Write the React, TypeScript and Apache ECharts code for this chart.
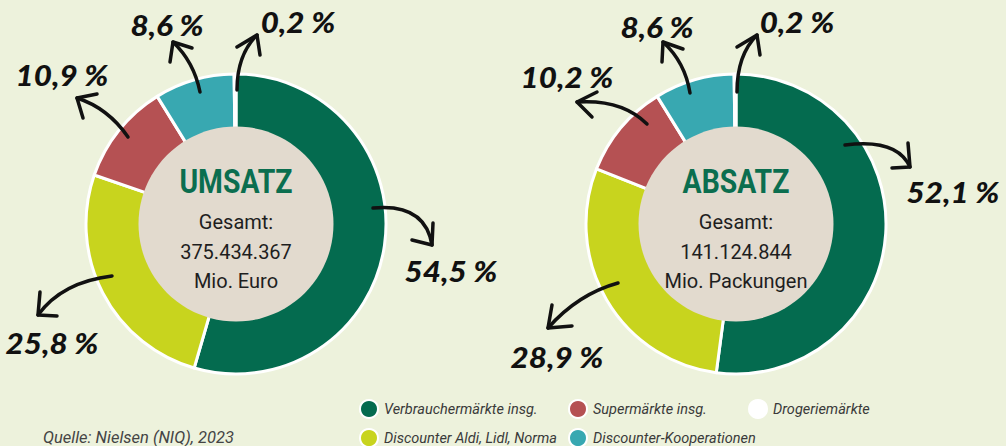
import React, { useEffect, useRef } from "react";
import * as echarts from "echarts";

const categories = [
  "Verbrauchermärkte insg.",
  "Discounter Aldi, Lidl, Norma",
  "Supermärkte insg.",
  "Discounter-Kooperationen",
  "Drogeriemärkte",
];
const colors = ["#046b4f", "#c8d41e", "#b55153", "#38a8b1", "#ffffff"];
const umsatzValues = [54.5, 25.8, 10.9, 8.6, 0.2];
const absatzValues = [52.1, 28.9, 10.2, 8.6, 0.2];
const titles = ["UMSATZ", "ABSATZ"];
const totals = ["375.434.367", "141.124.844"];
const units = ["Mio. Euro", "Mio. Packungen"];
const sourceText = "Quelle: Nielsen (NIQ), 2023";

// layout (pixels) for the two donuts and their hand-drawn annotations
const centers: [number, number][] = [
  [236, 224],
  [736, 224],
];
// per slice: label center, arrow tail, control, head, barb1, barb2
const annoLeft = [
  { l: [451, 271], t: [373, 208], c: [425, 203], h: [432, 245], b1: [412, 240], b2: [433, 223] },
  { l: [52, 343], t: [112, 276], c: [62, 282], h: [38, 315], b1: [40, 292], b2: [57, 316] },
  { l: [62, 75], t: [128, 137], c: [108, 108], h: [77, 98], b1: [97, 94], b2: [83, 118] },
  { l: [167, 25], t: [200, 92], c: [194, 62], h: [173, 42], b1: [170, 62], b2: [192, 48] },
  { l: [298, 22], t: [237, 90], c: [237, 55], h: [257, 35], b1: [237, 47], b2: [260, 55] },
];
const annoRight = [
  { l: [953, 192], t: [845, 145], c: [897, 138], h: [910, 167], b1: [892, 168], b2: [908, 143] },
  { l: [557, 357], t: [618, 283], c: [578, 294], h: [548, 328], b1: [552, 305], b2: [572, 326] },
  { l: [567, 77], t: [647, 124], c: [622, 99], h: [577, 102], b1: [597, 92], b2: [592, 117] },
  { l: [657, 27], t: [690, 93], c: [685, 62], h: [663, 42], b1: [662, 62], b2: [683, 49] },
  { l: [797, 22], t: [737, 92], c: [737, 55], h: [757, 35], b1: [737, 47], b2: [760, 55] },
];

const fmt = (v: number) => v.toFixed(1).replace(".", ",") + " %";

export default function App() {
  const ref = useRef<HTMLDivElement>(null);
  useEffect(() => {
    document.body.style.margin = "0";
    if (!ref.current) return;
    const chart = echarts.init(ref.current, null, { renderer: "svg" });
    const valuesList = [umsatzValues, absatzValues];
    const annos = [annoLeft, annoRight];

    const series: any[] = [];
    const graphics: any[] = [];
    valuesList.forEach((vals, i) => {
      series.push({
        type: "pie",
        center: centers[i],
        radius: [95, 150],
        startAngle: 90,
        clockwise: true,
        silent: true,
        label: { show: false },
        labelLine: { show: false },
        itemStyle: { borderColor: "#ffffff", borderWidth: 3 },
        data: vals.map((v, k) => ({
          name: categories[k],
          value: v,
          itemStyle: { color: colors[k] },
        })),
      });
      const [cx, cy] = centers[i];
      graphics.push({
        type: "circle",
        z: 100,
        shape: { cx, cy, r: 97.5 },
        style: { fill: "#e2dace" },
      });
      const txt = (t: string, y: number, style: any, extra: any = {}) => ({
        type: "text",
        z: 101,
        x: cx,
        y,
        ...extra,
        style: { text: t, textAlign: "center", textVerticalAlign: "middle", ...style },
      });
      graphics.push(
        txt(
          titles[i],
          cy - 42,
          {
            fontFamily: "Roboto, sans-serif",
            fontWeight: "bold",
            fontSize: 33,
            fill: "#0b6e4f",
          },
          { scaleX: 0.86 }
        )
      );
      const bodyStyle = { fontFamily: "Roboto, sans-serif", fontSize: 20, fill: "#1e1e1e" };
      graphics.push(txt("Gesamt:", cy - 2, bodyStyle));
      graphics.push(txt(totals[i], cy + 28, bodyStyle));
      graphics.push(txt(units[i], cy + 57, bodyStyle));

      annos[i].forEach((a, k) => {
        graphics.push({
          type: "bezierCurve",
          z: 50,
          shape: { x1: a.t[0], y1: a.t[1], cpx1: a.c[0], cpy1: a.c[1], x2: a.h[0], y2: a.h[1] },
          style: { stroke: "#111", lineWidth: 3.5, fill: null, lineCap: "round" },
        });
        graphics.push({
          type: "polyline",
          z: 50,
          shape: { points: [a.b1, a.h, a.b2] },
          style: { stroke: "#111", lineWidth: 3.5, fill: null, lineCap: "round", lineJoin: "round" },
        });
        graphics.push({
          type: "text",
          z: 50,
          x: a.l[0],
          y: a.l[1],
          scaleX: 1.12,
          style: {
            text: fmt(vals[k]),
            textAlign: "center",
            textVerticalAlign: "middle",
            fontFamily: "Lato, sans-serif",
            fontWeight: 900,
            fontStyle: "italic",
            fontSize: 28,
            fill: "#111",
          },
        });
      });
    });

    graphics.push({
      type: "text",
      x: 43,
      y: 437,
      style: {
        text: sourceText,
        textVerticalAlign: "middle",
        fontFamily: "Roboto, sans-serif",
        fontStyle: "italic",
        fontSize: 16.5,
        fill: "#444",
      },
    });

    const legendBase = {
      orient: "vertical",
      top: 399,
      height: 80,
      padding: 0,
      icon: "circle",
      itemWidth: 18,
      itemHeight: 18,
      itemGap: 9,
      selectedMode: false,
      textStyle: {
        fontFamily: "Roboto, sans-serif",
        fontStyle: "italic",
        fontSize: 14.5,
        color: "#3a3a3a",
        padding: [0, 0, 0, 1],
      },
    };

    chart.setOption({
      animation: false,
      backgroundColor: "#edf2dc",
      legend: [
        { ...legendBase, left: 359, data: [categories[0], categories[1]] },
        { ...legendBase, left: 568, data: [categories[2], categories[3]] },
        { ...legendBase, left: 748, data: [categories[4]] },
      ],
      series,
      graphic: graphics,
    });
    return () => chart.dispose();
  }, []);
  return <div ref={ref} style={{ width: 1006, height: 446 }} />;
}
